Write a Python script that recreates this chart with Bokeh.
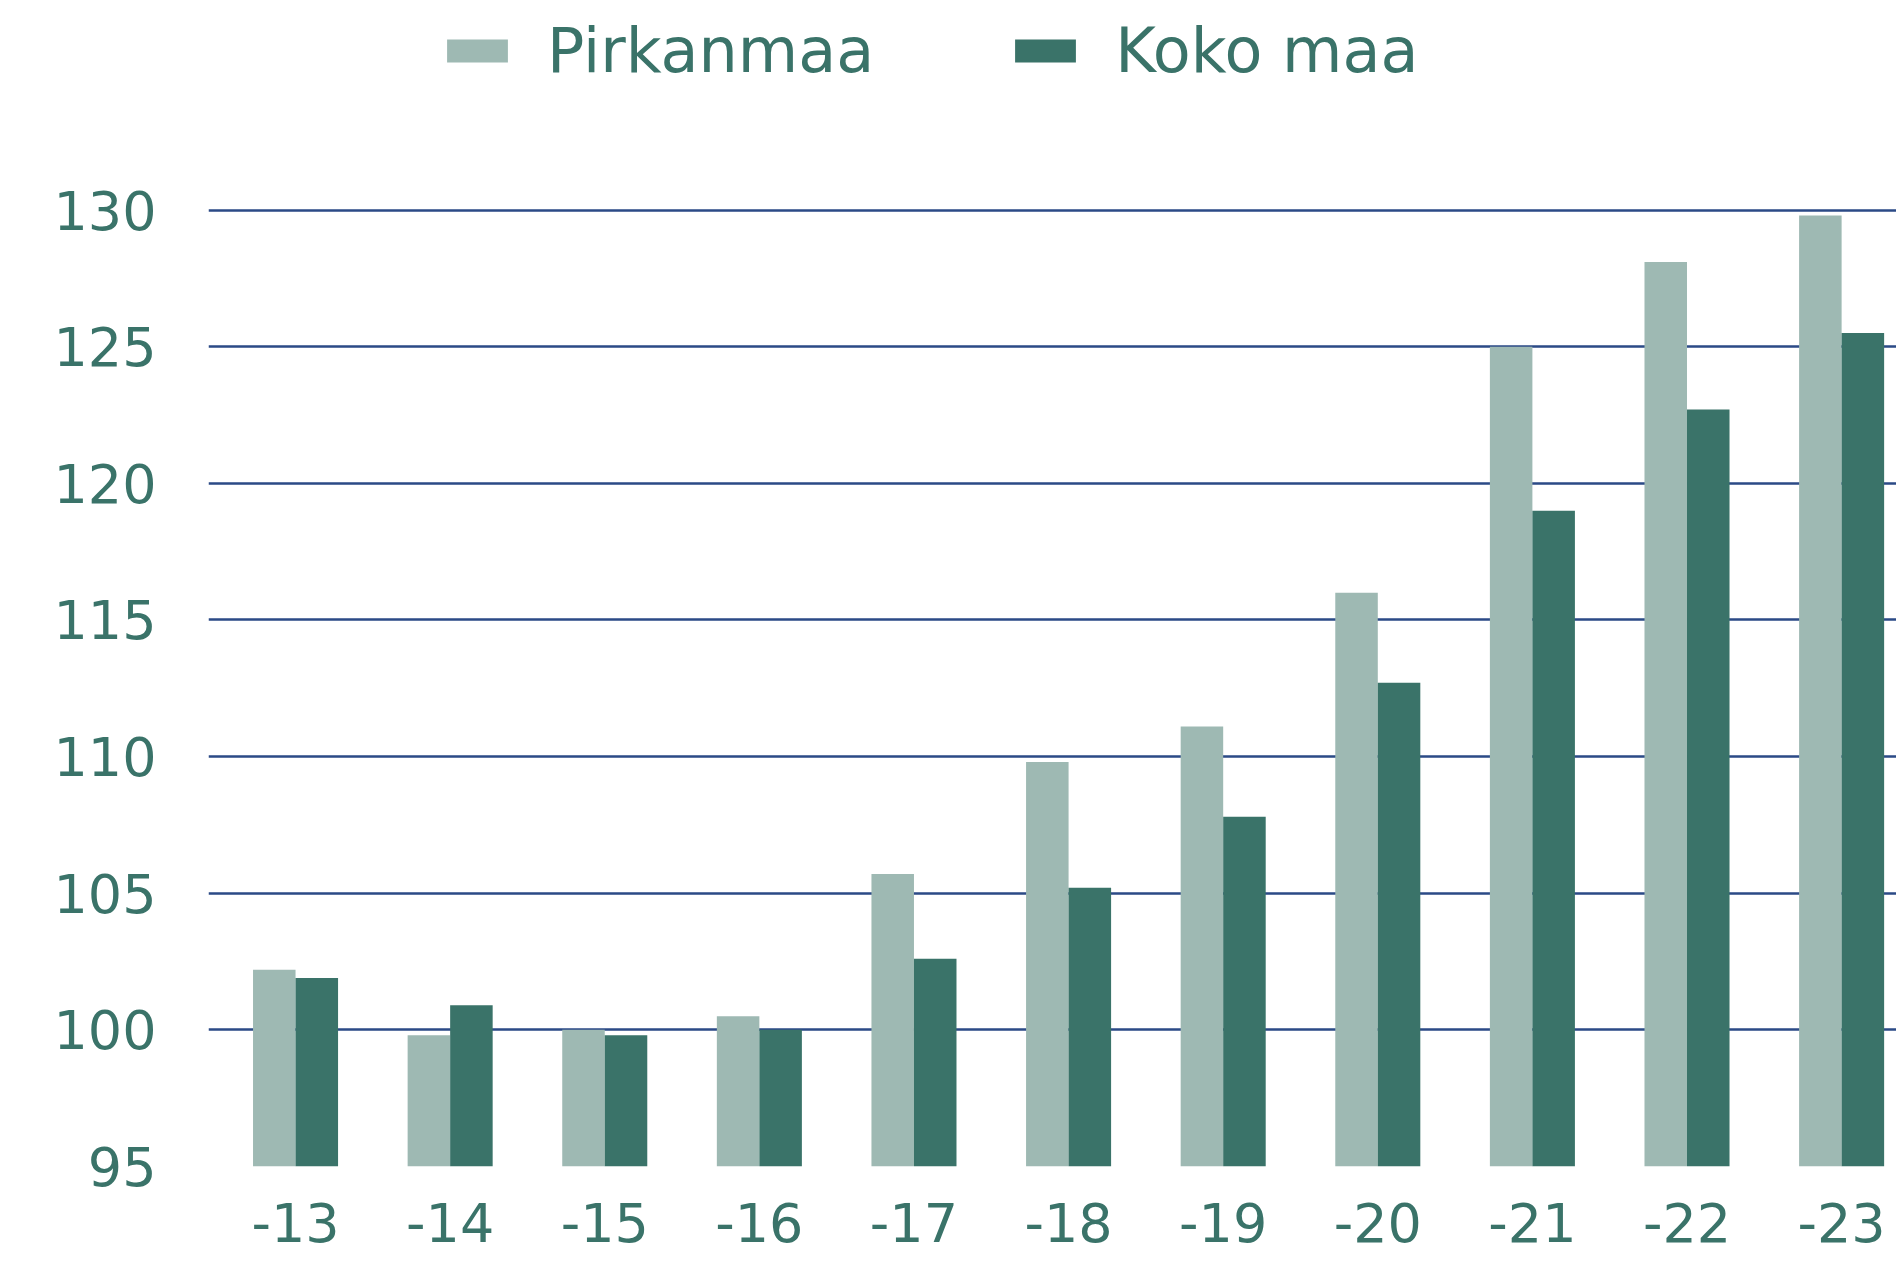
from bokeh.plotting import figure
from bokeh.layouts import column
from bokeh.models import ColumnDataSource, Range1d, FixedTicker, Legend, LegendItem
from bokeh.transform import dodge
from bokeh.embed import file_html
from bokeh.resources import INLINE

years = ["-13", "-14", "-15", "-16", "-17", "-18", "-19", "-20", "-21", "-22", "-23"]
pirkanmaa = [102.2, 99.8, 100.0, 100.5, 105.7, 109.8, 111.1, 116.0, 125.0, 128.1, 129.8]
koko_maa = [101.9, 100.9, 99.8, 100.0, 102.6, 105.2, 107.8, 112.7, 119.0, 122.7, 125.5]
series_names = ["Pirkanmaa", "Koko maa"]
y_ticks = [95, 100, 105, 110, 115, 120, 125, 130]

LIGHT = "#9EB9B3"
DARK = "#3A7369"
GRID = "#2B4A86"
TEXT = "#3A7369"
FONT = "DejaVu Sans"

idx = list(range(len(years)))
src = ColumnDataSource(dict(x=idx, p=pirkanmaa, k=koko_maa))

# ---- main chart ----
p = figure(frame_width=1688, frame_height=966, output_backend="svg", toolbar_location=None,
           x_range=Range1d(-0.563, len(years) - 1 + 0.355), y_range=Range1d(95, 130.35),
           min_border_left=208, min_border_right=0, min_border_top=40, min_border_bottom=104)
p.outline_line_color = None
p.background_fill_color = "white"

r1 = p.vbar(x=dodge("x", -0.1375, range=p.x_range), top="p", bottom=95, width=0.275, source=src,
            fill_color=LIGHT, line_color=None)
r2 = p.vbar(x=dodge("x", 0.1375, range=p.x_range), top="k", bottom=95, width=0.275, source=src,
            fill_color=DARK, line_color=None)

p.xaxis.ticker = FixedTicker(ticks=idx)
p.xaxis.major_label_overrides = {i: y for i, y in enumerate(years)}
p.yaxis.ticker = FixedTicker(ticks=y_ticks)

for ax in (p.xaxis[0], p.yaxis[0]):
    ax.major_tick_line_color = None
    ax.minor_tick_line_color = None
    ax.major_label_text_font = FONT
    ax.major_label_text_font_size = "54px"
    ax.major_label_text_color = TEXT
p.yaxis.axis_line_color = None
p.xaxis.axis_line_color = None
p.xaxis.major_label_standoff = 30
p.yaxis.major_label_standoff = 46

p.xgrid.grid_line_color = None
p.ygrid.ticker = FixedTicker(ticks=y_ticks)
p.ygrid.grid_line_color = GRID
p.ygrid.grid_line_width = 2.5
p.ygrid.level = "underlay"

# ---- legend strip ----
lg = figure(frame_width=1896, frame_height=160, output_backend="svg", toolbar_location=None,
            x_range=Range1d(0, 1), y_range=Range1d(0, 1),
            min_border_left=0, min_border_right=0, min_border_top=0, min_border_bottom=0)
lg.axis.visible = False
lg.grid.visible = False
lg.outline_line_color = None
offscreen = ColumnDataSource(dict(x=[-10], y=[-10]))
l1 = lg.rect(x="x", y="y", width=0.1, height=0.1, source=offscreen, fill_color=LIGHT, line_color=None)
l2 = lg.rect(x="x", y="y", width=0.1, height=0.1, source=offscreen, fill_color=DARK, line_color=None)

legend = Legend(items=[LegendItem(label=series_names[0], renderers=[l1], index=0),
                       LegendItem(label=series_names[1], renderers=[l2], index=0)],
                orientation="horizontal", location=(439, 73),
                glyph_width=76, glyph_height=29, label_standoff=32, spacing=133,
                label_text_font=FONT, label_text_font_size="62px", label_text_color=TEXT,
                border_line_color=None, background_fill_alpha=0, padding=0, margin=0)
lg.add_layout(legend, "center")

layout = column(lg, p, spacing=0)
open("out.html", "w").write(file_html(layout, INLINE))
